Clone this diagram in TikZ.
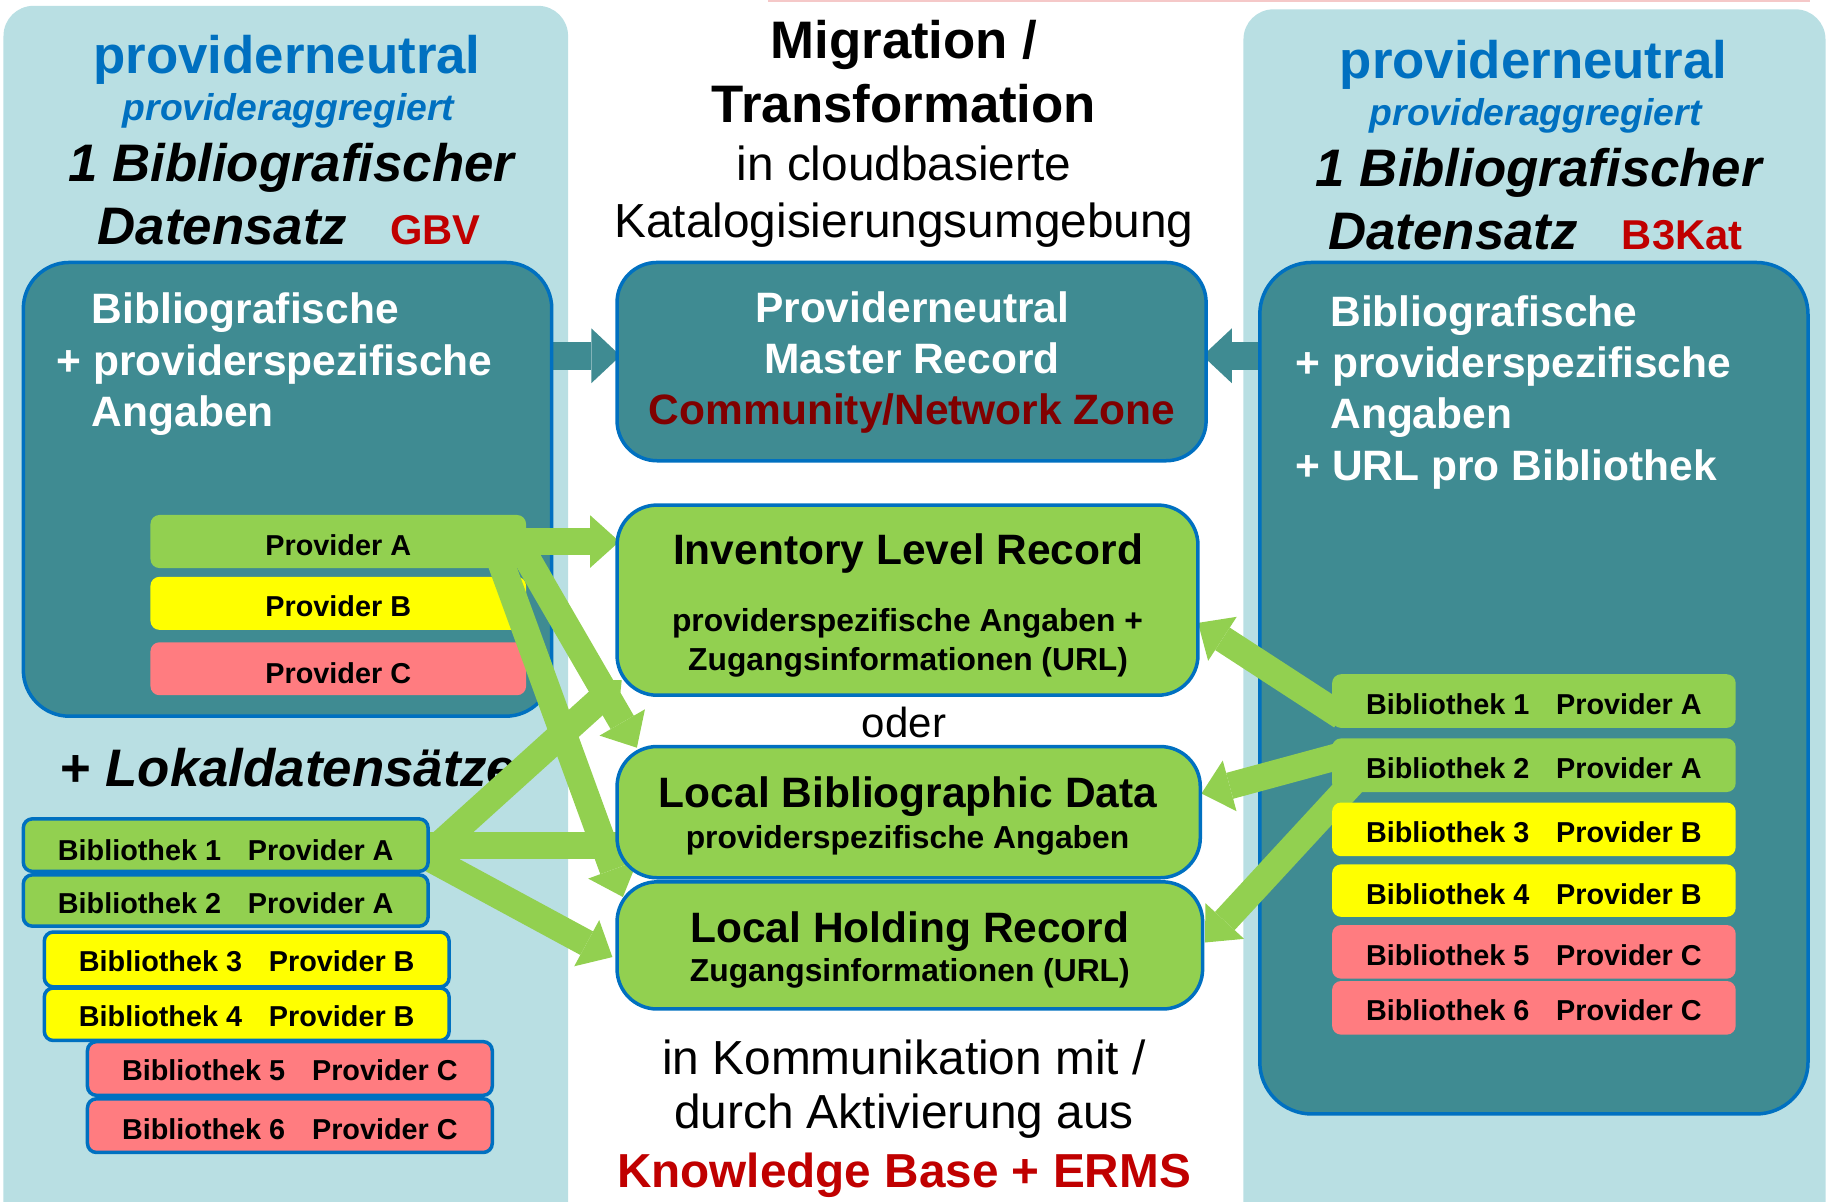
\documentclass[tikz,border=0pt]{standalone}
\usepackage{fontspec}
\setmainfont{Liberation Sans}
\usetikzlibrary{arrows.meta,fit,calc}
\definecolor{panelbg}{RGB}{185,223,227}
\definecolor{tealc}{RGB}{63,139,146}
\definecolor{bordblue}{RGB}{0,112,192}
\definecolor{greenc}{RGB}{146,208,80}
\definecolor{yellowc}{RGB}{255,255,0}
\definecolor{pinkc}{RGB}{255,124,128}
\definecolor{redc}{RGB}{192,0,0}
\definecolor{darkredc}{RGB}{128,0,0}
\definecolor{bluetxt}{RGB}{0,112,192}
\definecolor{pinkline}{RGB}{245,200,200}
\pgfdeclarelayer{lpanel}
\pgfdeclarelayer{ltealarrow}
\pgfdeclarelayer{linner}
\pgfdeclarelayer{lgreenarrow}
\pgfsetlayers{lpanel,ltealarrow,linner,lgreenarrow,main}
\newcommand\fsz[1]{\fontsize{#1pt}{#1pt}\selectfont}
\newcommand\libl[2]{Bibliothek #1\hspace{26.8pt}Provider #2}
\tikzset{
  panelbox/.style={fill=panelbg, draw=none, rounded corners=30pt, inner sep=0pt, outer sep=0pt},
  tealbox/.style={fill=tealc, draw=bordblue, line width=3.5pt, inner sep=0pt, outer sep=0pt},
  greenbox/.style={fill=greenc, draw=bordblue, line width=3.5pt, rounded corners=40pt, inner sep=0pt, outer sep=0pt},
  barbox/.style={rounded corners=9pt, inner sep=0pt, outer sep=0pt, draw=none},
  libbox/.style={rounded corners=9pt, inner sep=0pt, outer sep=0pt, draw=bordblue, line width=3.5pt},
  garrow/.style={draw=greenc, line width=26.8pt, -{Triangle[length=29.2pt, width=52.5pt, line width=0pt]}},
  tarrow/.style={draw=tealc, line width=28pt, -{Triangle[length=29.2pt, width=54.8pt, line width=0pt]}},
  txt/.style={anchor=base, inner sep=0pt, outer sep=0pt},
  txtl/.style={anchor=base west, inner sep=0pt, outer sep=0pt},
  bartxt/.style={txt, font=\bfseries\fsz{28.8}},
  bigb/.style={font=\bfseries\fsz{52.8}},
  bigbi/.style={font=\bfseries\itshape\fsz{52.8}},
  aggr/.style={font=\bfseries\itshape\fsz{37.3}, text=bluetxt},
  boxt/.style={font=\bfseries\fsz{42.5}},
  subt/.style={font=\bfseries\fsz{31.8}},
  regt/.style={font=\fsz{47.8}},
  innert/.style={txtl, font=\bfseries\fsz{42.5}, text=white},
}
\begin{document}
\begin{tikzpicture}[x=1.1665pt, y=-1.1665pt]
\useasboundingbox (0,0) rectangle (1568,1030);

% ---------- panels ----------
\begin{pgfonlayer}{lpanel}
  \node[panelbox, fit={(3,5)(487,1090)}] (lpanel) {};
  \node[panelbox, fit={(1066,8)(1565,1090)}] (rpanel) {};
  \coordinate (pl1) at (658,1);
  \coordinate (pl2) at (1552,1);
  \draw[pinkline, line width=2.5pt] (pl1) -- (pl2);
\end{pgfonlayer}

% ---------- inner panel content ----------
\begin{pgfonlayer}{linner}
  \node[tealbox, rounded corners=46pt, fit={(20,225)(473,614)}] (lbox) {};
  \node[tealbox, rounded corners=52pt, fit={(1080,225)(1550,955)}] (rbox) {};
  % left titles
  \node[txt, bigb, text=bluetxt] (lt1) at (246,62.9) {providerneutral};
  \node[txt, aggr] (lt2) at (247.4,102.9) {provideraggregiert};
  \node[txt, bigbi] (lt3) at (249.8,155.7) {1 Bibliografischer};
  \node[txtl, bigbi] (lt4) at (83.7,210) {Datensatz};
  \node[txtl, font=\bfseries\fsz{41.7}, text=redc] (lt5) at (334.7,210) {GBV};
  % right titles
  \node[txt, bigb, text=bluetxt] (rt1) at (1314.6,67.1) {providerneutral};
  \node[txt, aggr] (rt2) at (1316.5,107.2) {provideraggregiert};
  \node[txt, bigbi] (rt3) at (1319.3,159.5) {1 Bibliografischer};
  \node[txtl, bigbi] (rt4) at (1138.8,213.7) {Datensatz};
  \node[txtl, font=\bfseries\fsz{41.7}, text=redc] (rt5) at (1390.5,213.7) {B3Kat};
  % inner texts
  \node[innert] (li1) at (78.7,277) {Bibliografische};
  \node[innert] (li2) at (48.5,321.5) {+ providerspezifische};
  \node[innert] (li3) at (78.7,366) {Angaben};
  \node[innert] (ri1) at (1140.5,280) {Bibliografische};
  \node[innert] (ri2) at (1110.6,323.8) {+ providerspezifische};
  \node[innert] (ri3) at (1140.5,367.2) {Angaben};
  \node[innert] (ri4) at (1110.6,411.5) {+ URL pro Bibliothek};
  % provider B, C
  \node[barbox, fill=yellowc, fit={(129,494.5)(451,540)}] (pb) {};
  \node[bartxt] (pbt) at (290,528.7) {Provider B};
  \node[barbox, fill=pinkc, fit={(129,550.6)(451,596)}] (pc) {};
  \node[bartxt] (pct) at (290,585.8) {Provider C};
  % Lokaldatensaetze
  \node[txtl, bigbi] (lok) at (51.5,674.4) {{\upshape +} Lokaldatensätze};
\end{pgfonlayer}

% ---------- main layer: bars and centre ----------
\node[barbox, fill=greenc, fit={(129,441.5)(451,487)}] (pa) {};
\node[bartxt] (pat) at (290,476) {Provider A};

\node[libbox, fill=greenc, fit={(20,702)(367,747)}] (lb1) {};
\node[bartxt] (lb1t) at (193.5,737.3) {\libl{1}{A}};
\node[libbox, fill=greenc, fit={(20,750)(367,794)}] (lb2) {};
\node[bartxt] (lb2t) at (193.5,783) {\libl{2}{A}};
\node[libbox, fill=yellowc, fit={(38,799)(385,846)}] (lb3) {};
\node[bartxt] (lb3t) at (211.5,833) {\libl{3}{B}};
\node[libbox, fill=yellowc, fit={(38,847)(385,892)}] (lb4) {};
\node[bartxt] (lb4t) at (211.5,880) {\libl{4}{B}};
\node[libbox, fill=pinkc, fit={(75,893)(422,939)}] (lb5) {};
\node[bartxt] (lb5t) at (248.5,926) {\libl{5}{C}};
\node[libbox, fill=pinkc, fit={(75,942)(422,988)}] (lb6) {};
\node[bartxt] (lb6t) at (248.5,977) {\libl{6}{C}};

\node[barbox, fill=greenc, fit={(1142,578)(1488,624)}] (rb1) {};
\node[bartxt] (rb1t) at (1315,612.4) {\libl{1}{A}};
\node[barbox, fill=greenc, fit={(1142,633)(1488,679)}] (rb2) {};
\node[bartxt] (rb2t) at (1315,667.2) {\libl{2}{A}};
\node[barbox, fill=yellowc, fit={(1142,688)(1488,734)}] (rb3) {};
\node[bartxt] (rb3t) at (1315,722.4) {\libl{3}{B}};
\node[barbox, fill=yellowc, fit={(1142,741)(1488,786)}] (rb4) {};
\node[bartxt] (rb4t) at (1315,775) {\libl{4}{B}};
\node[barbox, fill=pinkc, fit={(1142,793)(1488,839)}] (rb5) {};
\node[bartxt] (rb5t) at (1315,827.3) {\libl{5}{C}};
\node[barbox, fill=pinkc, fit={(1142,841)(1488,887)}] (rb6) {};
\node[bartxt] (rb6t) at (1315,875) {\libl{6}{C}};

% centre header
\node[txt, bigb] (h1) at (775,50) {Migration /};
\node[txt, bigb] (h2) at (775,105) {Transformation};
\node[txt, regt] (h3) at (775,154.5) {in cloudbasierte};
\node[txt, regt] (h4) at (775,203.5) {Katalogisierungsumgebung};

% master
\node[tealbox, rounded corners=40pt, fit={(529,225)(1034,395)}] (master) {};
\node[txt, boxt, text=white] (m1) at (782,276.6) {Providerneutral};
\node[txt, boxt, text=white] (m2) at (782,320) {Master Record};
\node[txt, boxt, text=darkredc] (m3) at (782,363.5) {Community/Network Zone};

% inventory
\node[greenbox, fit={(529,433)(1027,596)}] (inv) {};
\node[txt, boxt] (i1) at (778.5,484.3) {Inventory Level Record};
\node[txt, subt] (i2) at (778,541.8) {providerspezifische Angaben +};
\node[txt, subt] (i3) at (778.5,574.4) {Zugangsinformationen (URL)};

\node[txt, font=\fsz{42}] (oder) at (775,632) {oder};

% local bibliographic data
\node[greenbox, fit={(529,640)(1029,752.5)}] (lbd) {};
\node[txt, boxt] (d1) at (778.5,692.6) {Local Bibliographic Data};
\node[txt, subt] (d2) at (778,727.2) {providerspezifische Angaben};

% local holding record
\node[greenbox, fit={(529,756)(1031,865)}] (lhr) {};
\node[txt, boxt] (r1) at (780,807.8) {Local Holding Record};
\node[txt, subt] (r2) at (780,841.2) {Zugangsinformationen (URL)};

% bottom text
\node[txt, regt] (b1) at (775,921) {in Kommunikation mit /};
\node[txt, regt] (b2) at (775,967.8) {durch Aktivierung aus};
\node[txt, font=\bfseries\fsz{47.7}, text=redc] (b3) at (775,1017.7) {Knowledge Base + ERMS};

% ---------- teal arrows ----------
\begin{pgfonlayer}{ltealarrow}
  \draw[tarrow] ($(lbox.east |- master.west)+(-12,-5)$) -- ($(master.west)+(3,-5)$);
  \draw[tarrow] ($(rbox.west |- master.east)+(12,-5)$) -- ($(master.east)+(-3,-5)$);
\end{pgfonlayer}

% ---------- green arrows ----------
\begin{pgfonlayer}{lgreenarrow}
  \draw[garrow] ($(pa.east)+(-12,0)$) -- ($(inv.west |- pa.east)+(2,0)$);
  \draw[garrow] ($(pa.east)+(-4,6)$) -- ($(lbd.north west)+(17,1)$);
  \draw[garrow] ($(pa.east)+(-26,6)$) -- ($(lhr.north west)+(5,13)$);
  \draw[garrow] ($(lb1.east)+(-5,13)$) -- ($(inv.south west)+(4,-13)$);
  \draw[garrow] ($(lb1.east)+(-12,0)$) -- ($(lbd.west |- lb1.east)+(61,0)$);
  \draw[garrow] ($(lb1.east)+(-12,4)$) -- ($(lhr.west)+(-4,10)$);
  \draw[garrow] ($(rb1.west)+(8,13)$) -- ($(inv.east)+(0,19.5)$);
  \draw[garrow] ($(rb2.west)+(18,-11)$) -- ($(lbd.east)+(1,-16)$);
  \draw[garrow] ($(rb2.west)+(23,9)$) -- ($(lhr.east)+(2,-2.5)$);
\end{pgfonlayer}
\end{tikzpicture}
\end{document}
